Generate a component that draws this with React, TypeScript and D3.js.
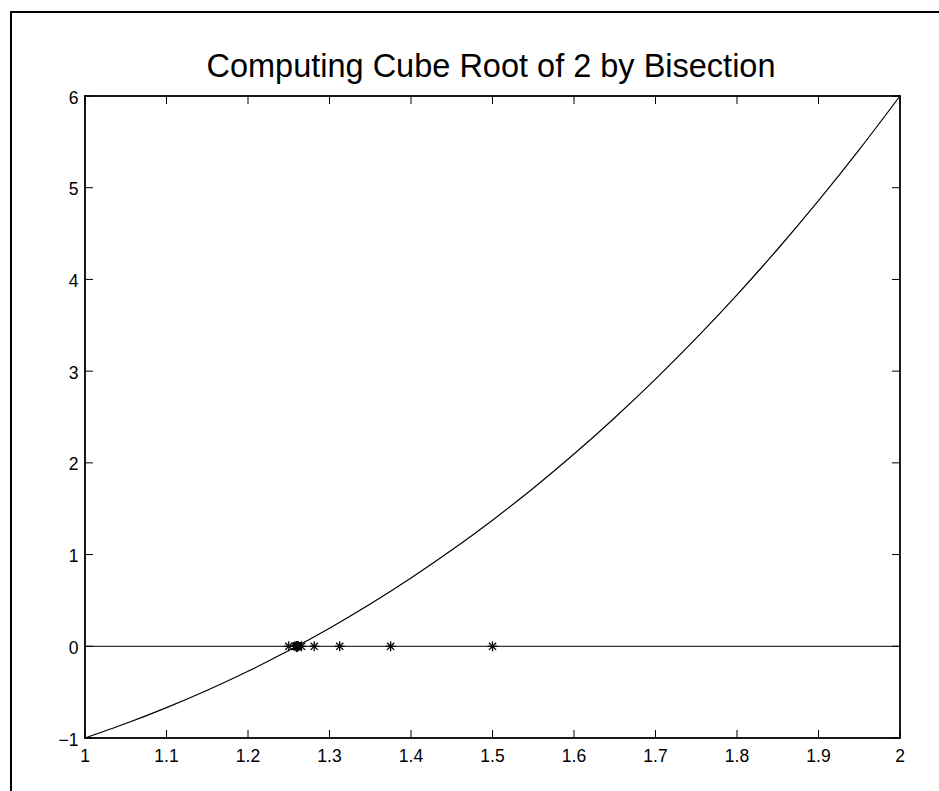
import React from "react";
import * as d3 from "d3";

// f(x) = x^3 - 2 sampled on [1, 2]
const curveX = [1.0, 1.05, 1.1, 1.15, 1.2, 1.25, 1.3, 1.35, 1.4, 1.45, 1.5, 1.55, 1.6, 1.65, 1.7, 1.75, 1.8, 1.85, 1.9, 1.95, 2.0];
const curveY = [-1, -0.842375, -0.669, -0.479125, -0.272, -0.046875, 0.197, 0.460375, 0.744, 1.048625, 1.375, 1.723875, 2.096, 2.492125, 2.913, 3.359375, 3.832, 4.331625, 4.859, 5.414875, 6];

// successive bisection midpoints
const midpoints = [
  1.5, 1.25, 1.375, 1.3125, 1.28125, 1.265625, 1.2578125, 1.26171875,
  1.259765625, 1.2607421875, 1.26025390625, 1.260009765625, 1.2598876953125,
  1.25994873046875, 1.259918212890625, 1.2599334716796875, 1.2599258422851562,
  1.2599220275878906, 1.2599201202392578, 1.2599210739135742,
];

const xTicks = [1, 1.1, 1.2, 1.3, 1.4, 1.5, 1.6, 1.7, 1.8, 1.9, 2];
const yTicks = [-1, 0, 1, 2, 3, 4, 5, 6];
const title = "Computing Cube Root of 2 by Bisection";

const W = 939;
const H = 791;
const left = 85, right = 900, top = 96, bottom = 738;
const font = "'Liberation Sans', Arial, Helvetica, sans-serif";

export default function App() {
  const x = d3.scaleLinear().domain([1, 2]).range([left, right]);
  const y = d3.scaleLinear().domain([-1, 6]).range([bottom, top]);
  const pts = curveX.map((v, i) => [v, curveY[i]] as [number, number]);
  const line = d3.line<[number, number]>().x(d => x(d[0])).y(d => y(d[1])).curve(d3.curveNatural);
  const tick = 8;
  const m = 5;
  const md = m * 0.72;

  return (
    <div style={{ position: "fixed", left: 0, top: 0, width: W, height: H, overflow: "hidden", background: "#fff" }}>
      <svg width={W} height={H} style={{ display: "block" }}>
        <rect x={0} y={0} width={W} height={H} fill="#fff" />
        {/* figure frame: left and top edges only */}
        <line x1={11} x2={11} y1={11} y2={H} stroke="#000" strokeWidth={2} />
        <line x1={10} x2={W} y1={12} y2={12} stroke="#000" strokeWidth={2} />
        <text x={491} y={77} textAnchor="middle" fontFamily={font} fontSize={32.5}>{title}</text>

        {/* zero line */}
        <line x1={x(1)} x2={x(2)} y1={y(0)} y2={y(0)} stroke="#000" strokeWidth={1} />
        {/* curve */}
        <path d={line(pts) ?? ""} fill="none" stroke="#000" strokeWidth={1.2} />
        {/* bisection markers */}
        {midpoints.map((v, i) => {
          const cx = x(v), cy = y(0);
          return (
            <g key={i} stroke="#000" strokeWidth={1.3}>
              <line x1={cx - m} x2={cx + m} y1={cy} y2={cy} />
              <line x1={cx} x2={cx} y1={cy - m} y2={cy + m} />
              <line x1={cx - md} x2={cx + md} y1={cy - md} y2={cy + md} />
              <line x1={cx - md} x2={cx + md} y1={cy + md} y2={cy - md} />
            </g>
          );
        })}

        {/* axes box with inward ticks */}
        <rect x={left} y={top} width={right - left} height={bottom - top} fill="none" stroke="#000" strokeWidth={1.8} />
        {xTicks.map((t, i) => (
          <g key={"x" + i}>
            <line x1={x(t)} x2={x(t)} y1={bottom} y2={bottom - tick} stroke="#000" strokeWidth={1} />
            <line x1={x(t)} x2={x(t)} y1={top} y2={top + tick} stroke="#000" strokeWidth={1} />
            <text x={x(t)} y={762} textAnchor="middle" fontFamily={font} fontSize={17.5}>{String(t)}</text>
          </g>
        ))}
        {yTicks.map((t, i) => (
          <g key={"y" + i}>
            <line x1={left} x2={left + tick} y1={y(t)} y2={y(t)} stroke="#000" strokeWidth={1} />
            <line x1={right} x2={right - tick} y1={y(t)} y2={y(t)} stroke="#000" strokeWidth={1} />
            <text x={78.5} y={y(t) + 7.5} textAnchor="end" fontFamily={font} fontSize={17.5}>{t < 0 ? "\u2212" + Math.abs(t) : String(t)}</text>
          </g>
        ))}
      </svg>
    </div>
  );
}
